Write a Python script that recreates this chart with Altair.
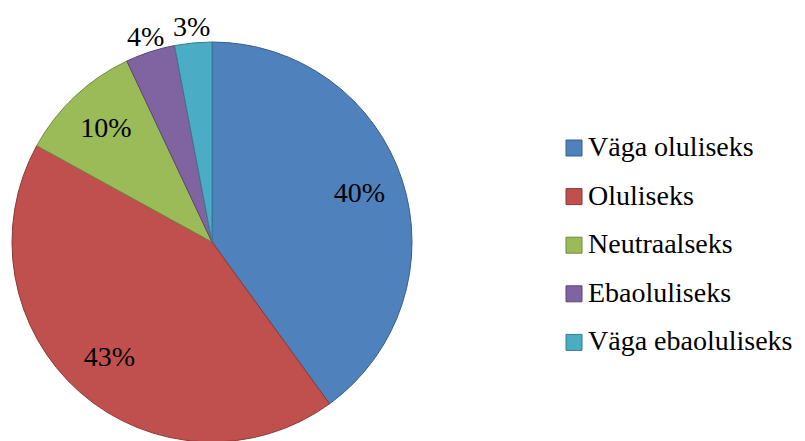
import altair as alt
import pandas as pd

categories = ["Väga oluliseks", "Oluliseks", "Neutraalseks", "Ebaoluliseks", "Väga ebaoluliseks"]
values = [40, 43, 10, 4, 3]
fills = ["#4F81BD", "#C0504D", "#9BBB59", "#8064A2", "#4BACC6"]
borders = ["#385D8A", "#8C3836", "#71893F", "#5C4776", "#357D91"]

df = pd.DataFrame({
    "cat": categories,
    "value": values,
    "idx": list(range(len(categories))),
})
df["label"] = df["value"].astype(str) + "%"

FONT = "Liberation Serif, Times New Roman, serif"
CX, CY = 204, 234

base = alt.Chart(df).encode(
    theta=alt.Theta("value:Q", stack=True),
    order=alt.Order("idx:Q", sort="ascending"),
    x=alt.value(CX),
    y=alt.value(CY),
)

def legend():
    return alt.Legend(
        title=None,
        orient="none",
        legendX=552,
        legendY=126,
        padding=0,
        symbolType="square",
        symbolSize=256,
        symbolStrokeWidth=1,
        labelFont=FONT,
        labelFontSize=28,
        labelColor="black",
        labelOffset=0,
        rowPadding=20.6,
        labelLimit=400,
    )

arcs = base.mark_arc(radius=200, strokeWidth=1).encode(
    color=alt.Color(
        "cat:N",
        sort=categories,
        scale=alt.Scale(domain=categories, range=fills),
        legend=legend(),
    ),
    stroke=alt.Stroke(
        "cat:N",
        sort=categories,
        scale=alt.Scale(domain=categories, range=borders),
        legend=legend(),
    ),
)

inner = base.mark_text(
    radius=155, font=FONT, fontSize=28, color="black"
).encode(text=alt.condition("datum.value >= 5", alt.Text("label:N"), alt.value("")))

outer = base.mark_text(
    radius=215, font=FONT, fontSize=28, color="black"
).encode(text=alt.condition("datum.value < 5", alt.Text("label:N"), alt.value("")))

chart = (
    alt.layer(arcs, inner, outer)
    .properties(width=789, height=460, padding=0,
                autosize=alt.AutoSizeParams(type="none"))
    .configure_view(stroke=None)
)

chart.save("out.html", embed_options={"renderer": "svg", "actions": False})
